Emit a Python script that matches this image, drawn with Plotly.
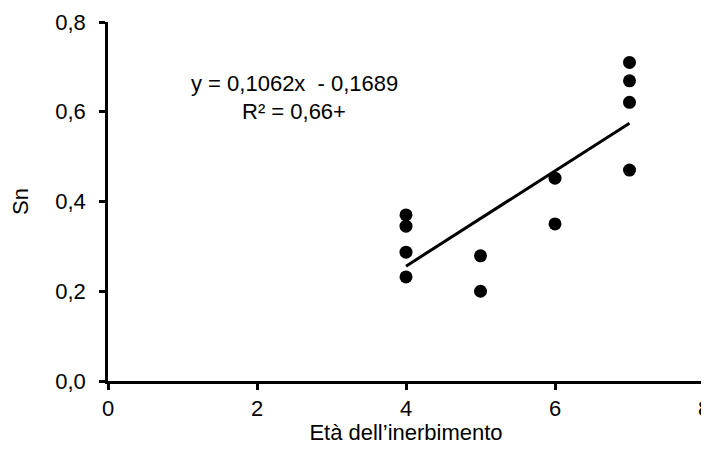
import plotly.graph_objects as go

# Data
x_vals = [4, 4, 4, 4, 5, 5, 6, 6, 7, 7, 7, 7]
sn_vals = [0.370, 0.345, 0.287, 0.232, 0.279, 0.200, 0.452, 0.350, 0.710, 0.669, 0.621, 0.470]
slope = 0.1062
intercept = -0.1689
trend_x = [4, 7]
equation_lines = ["y = 0,1062x  - 0,1689", "R² = 0,66+"]
x_ticks = [0, 2, 4, 6, 8]
y_ticks = [0.0, 0.2, 0.4, 0.6, 0.8]

trend_y = [slope * v + intercept for v in trend_x]

font_family = "Liberation Sans, Arial, sans-serif"
fs = 22

fig = go.Figure()
fig.add_trace(go.Scatter(
    x=x_vals, y=sn_vals, mode="markers",
    marker=dict(color="black", size=13),
    showlegend=False, hoverinfo="skip",
))
fig.add_trace(go.Scatter(
    x=trend_x, y=trend_y, mode="lines",
    line=dict(color="black", width=3),
    showlegend=False, hoverinfo="skip",
))

for line_text, ypos in zip(equation_lines, [0.663, 0.600]):
    fig.add_annotation(
        x=2.50, y=ypos, xref="x", yref="y",
        text=line_text, showarrow=False,
        font=dict(family=font_family, size=fs, color="black"),
        align="center", xanchor="center", yanchor="middle",
    )

# page body adds an 8px margin, so the figure is sized to fit the window
fig.update_layout(
    width=701, height=437,
    margin=dict(l=100, r=5, t=14, b=64, autoexpand=False),
    paper_bgcolor="white", plot_bgcolor="white",
    separators=", ",
    font=dict(family=font_family, size=fs, color="black"),
    xaxis=dict(
        range=[0, 8], tickvals=x_ticks, tickformat="d",
        showgrid=False, zeroline=False, automargin=False,
        showline=True, linecolor="black", linewidth=2.5,
        ticks="outside", ticklen=6, tickwidth=2.5, tickcolor="black",
        ticklabeloverflow="allow",
        title=dict(text="Età dell’inerbimento", standoff=8,
                   font=dict(family=font_family, size=fs)),
        tickfont=dict(family=font_family, size=fs),
    ),
    yaxis=dict(
        range=[0, 0.8], tickvals=y_ticks, tickformat=".1f",
        showgrid=False, zeroline=False, automargin=False,
        showline=True, linecolor="black", linewidth=2.5,
        ticks="outside", ticklen=6, tickwidth=2.5, tickcolor="black",
        ticklabelstandoff=9, ticklabeloverflow="allow",
        title=dict(text="Sn", standoff=22,
                   font=dict(family=font_family, size=fs)),
        tickfont=dict(family=font_family, size=fs),
    ),
)

fig.write_html("out.html")
